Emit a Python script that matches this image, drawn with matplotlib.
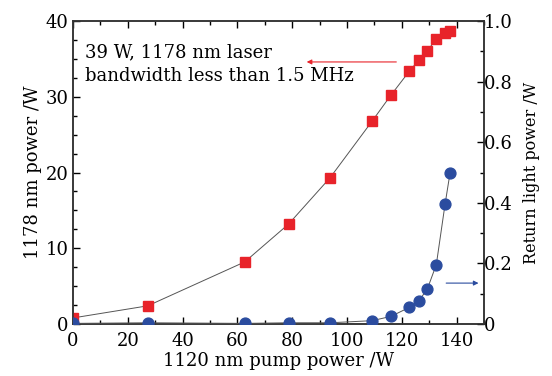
import matplotlib
matplotlib.use('Agg')
import matplotlib.pyplot as plt
from matplotlib.ticker import MultipleLocator

plt.rcParams['font.family'] = 'DejaVu Serif'

# pump power (W) and measured outputs
pump_power = [0, 27.3, 62.7, 78.7, 93.8, 109.2, 116.0, 122.8, 126.1, 129.3, 132.6, 135.8, 137.6]
laser_power = [0.8, 2.4, 8.2, 13.2, 19.3, 26.8, 30.2, 33.4, 34.8, 36.1, 37.6, 38.4, 38.7]
return_power = [0.002, 0.004, 0.002, 0.004, 0.004, 0.011, 0.025, 0.055, 0.075, 0.115, 0.196, 0.396, 0.498]

fig = plt.figure(figsize=(5.52, 3.76), dpi=100)
ax = fig.add_axes([0.1322, 0.1383, 0.7446, 0.8057])
ax2 = ax.twinx()

ax.plot(pump_power, laser_power, color='#555555', lw=0.7, marker='s', ms=6.8,
        mfc='#e8232a', mec='#e8232a', zorder=3)
ax2.plot(pump_power, return_power, color='#555555', lw=0.7, marker='o', ms=7.8,
         mfc='#2b4c9f', mec='#2b4c9f', zorder=3)

ax.set_xlim(0, 150)
ax.set_ylim(0, 40)
ax2.set_ylim(0, 1.0)

ax.xaxis.set_major_locator(MultipleLocator(20))
ax.xaxis.set_minor_locator(MultipleLocator(10))
ax.yaxis.set_major_locator(MultipleLocator(10))
ax.yaxis.set_minor_locator(MultipleLocator(2.5))
ax2.yaxis.set_minor_locator(MultipleLocator(0.1))
ax2.set_yticks([0, 0.2, 0.4, 0.6, 0.8, 1.0])
ax2.set_yticklabels(['0', '0.2', '0.4', '0.6', '0.8', '1.0'])

ax.tick_params(axis='both', which='both', direction='in', labelsize=13)
ax.tick_params(axis='x', which='both', top=True, pad=6)
ax.tick_params(axis='y', which='both', pad=3)
ax.tick_params(which='major', length=5, width=1)
ax.tick_params(which='minor', length=3, width=1)
ax2.tick_params(axis='y', which='both', direction='in', labelsize=13, pad=0)
ax2.tick_params(which='major', length=5, width=1)
ax2.tick_params(which='minor', length=3, width=1)

for a in (ax, ax2):
    for s in a.spines.values():
        s.set_linewidth(1.1)
        s.set_color('#333333')

ax.set_xlabel('1120 nm pump power /W', fontsize=13, labelpad=1)
ax.set_ylabel('1178 nm power /W', fontsize=13, labelpad=3)
ax2.set_ylabel('Return light power /W', fontsize=11.5, labelpad=7)

ax.text(4.5, 37.0, '39 W, 1178 nm laser\nbandwidth less than 1.5 MHz', fontsize=13,
        va='top', ha='left', linespacing=1.4)

ax.annotate('', xy=(85.3, 34.6), xytext=(118, 34.6),
            arrowprops=dict(arrowstyle='-|>', color='#e8232a', lw=0.8,
                            mutation_scale=7, shrinkA=0, shrinkB=0))
ax.annotate('', xy=(148, 5.4), xytext=(136.2, 5.4),
            arrowprops=dict(arrowstyle='-|>', color='#2b4c9f', lw=0.8,
                            mutation_scale=7, shrinkA=0, shrinkB=0))

fig.savefig('out.png', dpi=100)
